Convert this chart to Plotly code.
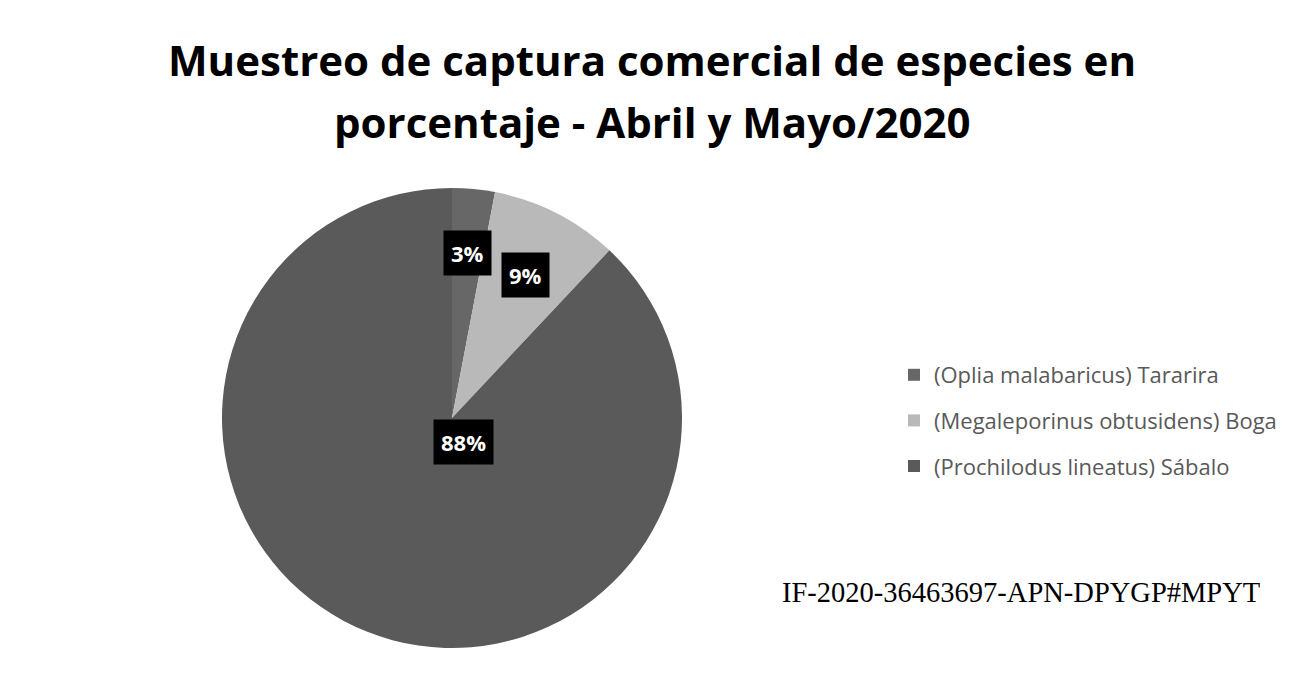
import math
import plotly.graph_objects as go

# Species sampled in the commercial catch (April and May 2020)
especies = [
    "(Oplia malabaricus) Tararira",
    "(Megaleporinus obtusidens) Boga",
    "(Prochilodus lineatus) Sábalo",
]
porcentajes = [3, 9, 88]
colores = ["#676767", "#b9b9b9", "#5a5a5a"]

titulo_l1 = "Muestreo de captura comercial de especies en"
titulo_l2 = "porcentaje - Abril y Mayo/2020"
codigo_doc = "IF-2020-36463697-APN-DPYGP#MPYT"

W, H = 1316, 674
# pie placement in pixels (centre and radius)
cx, cy, R = 452, 418, 230

fig = go.Figure()
fig.add_trace(go.Pie(
    labels=especies,
    values=porcentajes,
    sort=False,
    direction="clockwise",
    rotation=0,
    marker=dict(colors=colores, line=dict(width=0)),
    textinfo="none",
    showlegend=False,
    hoverinfo="label+percent",
    domain=dict(x=[(cx - R) / W, (cx + R) / W], y=[1 - (cy + R) / H, 1 - (cy - R) / H]),
))

# legend entries, one group each so their spacing can be set
for i, (nombre, col) in enumerate(zip(especies, colores)):
    fig.add_trace(go.Scatter(
        x=[None], y=[None], mode="markers", name=nombre,
        marker=dict(symbol="square", size=12, color=col),
        legendgroup=f"g{i}", showlegend=True, hoverinfo="skip",
    ))

# percentage labels in black boxes
total = sum(porcentajes)
radial = [0.72, 0.70, 0.22]
acum = 0
for v, rf in zip(porcentajes, radial):
    mid = (acum + v / 2) / total * 2 * math.pi
    acum += v
    px = cx + rf * R * math.sin(mid)
    py = cy - rf * R * math.cos(mid)
    fig.add_annotation(
        x=px / W, y=1 - py / H, xref="paper", yref="paper",
        text=f"<b>{v / total * 100:.0f}%</b>", showarrow=False,
        font=dict(family="Open Sans", size=22, color="white"),
        bgcolor="black", borderpad=7,
    )

# two-line title
for txt, ypix in [(titulo_l1, 60), (titulo_l2, 121)]:
    fig.add_annotation(
        x=652 / W, y=1 - ypix / H, xref="paper", yref="paper",
        text=f"<b>{txt}</b>", showarrow=False, xanchor="center", yanchor="middle",
        font=dict(family="Open Sans", size=42, color="black"),
    )

# document code
fig.add_annotation(
    x=1021 / W, y=1 - 592 / H, xref="paper", yref="paper",
    text=codigo_doc, showarrow=False, xanchor="center", yanchor="middle",
    font=dict(family="Liberation Serif", size=28.5, color="black"),
)

fig.update_layout(
    width=W, height=H,
    margin=dict(l=0, r=0, t=0, b=0),
    paper_bgcolor="white", plot_bgcolor="white",
    xaxis=dict(visible=False), yaxis=dict(visible=False),
    legend=dict(
        x=894 / W, y=1 - 354 / H, xanchor="left", yanchor="top",
        font=dict(family="Open Sans", size=22, color="#595959"),
        tracegroupgap=14, bgcolor="rgba(0,0,0,0)",
    ),
)

fig.write_html("out.html")
